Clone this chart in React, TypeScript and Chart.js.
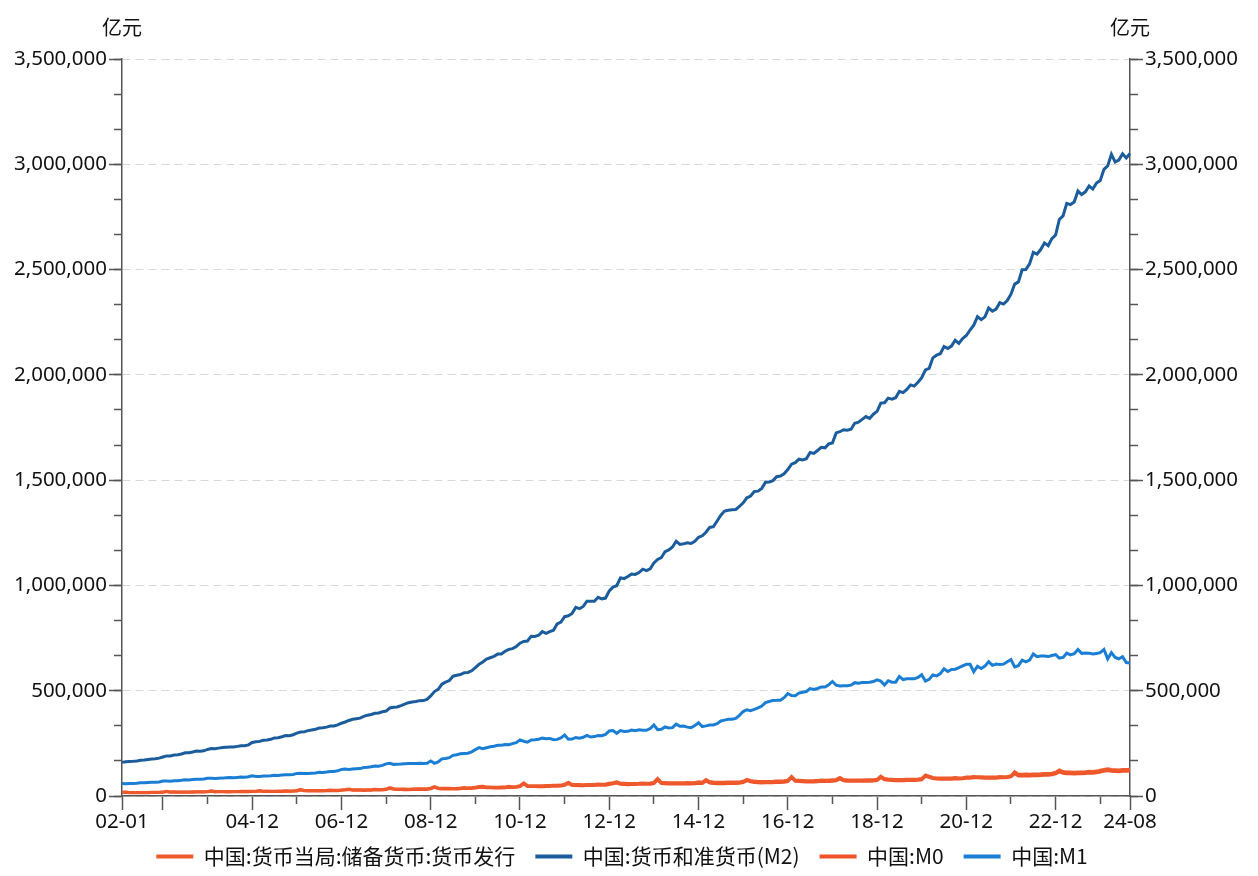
import React, { useEffect, useRef } from 'react';
import { Chart, registerables } from 'chart.js';

Chart.register(...registerables);

// Category labels: monthly, 2002-01 .. 2024-08
const labels: string[] = [];
for (let y = 2002; y <= 2024; y++) {
  for (let m = 1; m <= 12; m++) {
    if (y === 2024 && m > 8) break;
    labels.push(String(y % 100).padStart(2, '0') + '-' + String(m).padStart(2, '0'));
  }
}

const seriesNames = ['中国:货币当局:储备货币:货币发行', '中国:货币和准货币(M2)', '中国:M0', '中国:M1'];
const seriesColors = ['#ee5a2b', '#1b5c9c', '#f0532a', '#1a7ed4'];

// 亿元
const currencyIssue = [
  18300,19000,17200,16900,16600,16500,16700,17000,17600,17400,17500,18600,
  22900,19400,19600,19500,19300,19400,19200,19700,20500,20100,20400,21200,
  24500,21200,21400,21400,21200,21000,21300,21600,22600,22300,22300,23100,
  23000,26100,23100,23200,22900,22900,23200,23600,24700,24300,24500,25900,
  31200,26600,26300,26400,26000,25800,26300,26800,27900,27400,27600,29100,
  30500,33500,30000,29800,29400,29200,29600,30200,31700,30900,31100,32900,
  40200,34600,33400,33400,33000,32600,33300,33900,34700,34000,34300,37100,
  44800,38400,37000,36700,36300,36000,36500,37700,40100,38600,39000,41600,
  44800,46100,42900,42500,41900,41700,42200,43000,45700,44400,45000,48600,
  62800,49800,49200,49200,48500,48600,49400,50000,51500,50600,51800,55900,
  65600,54600,54600,54100,53700,54300,54500,55000,57400,55900,56600,60600,
  63600,67400,60800,60000,59200,59400,59800,60600,61900,60600,61500,64600,
  83500,65400,64300,63300,62800,63000,62400,63000,64200,63100,63600,67200,
  65700,78000,68400,66300,64900,65100,65200,66000,67000,66300,66500,69900,
  79500,74200,70700,69300,68300,69200,69300,69500,71500,70900,72000,74900,
  93500,75600,74800,74000,72700,73000,73100,73900,75900,74800,75400,77100,
  78900,87900,78000,76600,75700,75600,75800,76300,77300,76600,77300,79100,
  93900,82700,80500,79300,78300,78200,78600,79100,79700,79000,80300,82900,
  99500,93700,88500,86000,85000,85000,85000,85000,87900,85900,87100,89800,
  90200,92600,92000,91100,90000,89800,89800,90000,92400,91600,92900,96400,
  115000,103500,103100,103900,103500,104000,104500,105200,106700,106400,108500,112900,
  124100,116100,114100,114400,113200,113900,113900,114800,117800,116900,118300,122400,
  126500,129500,125600,124900,123600,126400,126000,126800,
];

const m2 = [
  159600,162400,164100,164900,166100,169600,170900,173300,176000,176800,179700,185000,
  190500,190100,194500,196100,199500,204900,205500,209000,213600,212900,214500,221200,
  225100,224800,227300,229900,231400,233100,232400,235700,238400,238400,243000,254100,
  257700,259400,264600,266000,269200,275800,276900,281300,287400,286700,291100,298800,
  303600,304500,310500,313700,316700,322800,324000,327000,331900,332700,337500,345600,
  351500,358700,364100,367300,369700,377800,383900,387200,393100,394200,399800,403400,
  417800,421000,423100,429300,436200,443100,446400,448800,452900,453100,458600,475200,
  496100,506700,530600,540500,548300,568900,573100,576700,585400,586600,594600,610200,
  625600,636100,649900,656600,663400,673900,674100,687500,696500,699800,710300,725800,
  733900,736100,758100,757400,763400,780800,772900,780900,787400,816800,825500,851600,
  855900,867200,895600,889600,900000,924900,925400,924900,943700,936400,940000,974100,
  992100,998600,1035900,1032600,1042200,1054400,1052200,1061300,1077400,1070200,1079300,1106500,
  1123500,1131700,1160700,1168800,1182300,1209600,1194900,1197500,1202100,1199200,1209900,1228400,
  1235500,1252400,1275300,1279300,1306000,1333400,1353200,1356900,1359800,1361000,1374900,1392300,
  1416300,1424600,1446200,1447700,1461000,1490500,1491600,1497800,1516400,1519500,1530400,1550100,
  1575900,1583000,1599600,1596300,1601400,1631300,1627000,1641000,1655600,1653400,1672000,1676800,
  1724200,1729900,1739500,1737400,1741800,1770200,1775600,1788700,1801700,1793000,1813100,1826700,
  1865900,1867400,1889400,1884700,1891500,1921400,1915800,1930900,1952300,1946600,1965000,1986500,
  2023100,2030800,2080900,2093500,2100200,2134900,2125500,2136800,2164100,2149700,2172000,2186800,
  2213000,2236000,2276200,2262100,2275500,2317800,2302200,2312300,2342800,2336000,2352600,2382900,
  2431000,2441500,2499300,2499700,2527000,2581500,2573600,2595100,2626600,2612900,2647100,2664300,
  2738100,2755200,2814600,2808500,2820500,2873000,2856600,2869200,2896700,2882300,2911200,2922700,
  2976200,2992500,3047900,3011400,3020300,3050200,3030300,3051500,
];

const m0 = [
  16900,17600,15900,15600,15300,15200,15400,15700,16300,16100,16200,17300,
  21200,17900,18100,18000,17800,17900,17700,18200,19000,18600,18900,19700,
  22600,19500,19700,19700,19500,19300,19600,19900,20900,20600,20600,21500,
  21100,24000,21200,21300,21000,21000,21300,21700,22800,22400,22600,24000,
  28700,24400,24100,24200,23800,23600,24100,24600,25700,25200,25400,27100,
  27900,30600,27400,27200,26800,26600,27000,27600,29100,28300,28500,30300,
  36700,31600,30400,30400,30000,29600,30300,30900,31700,31000,31300,34200,
  41100,35100,33700,33400,33000,32700,33200,34400,36800,35300,35700,38200,
  40800,42000,39100,38700,38100,37900,38400,39200,41900,40600,41200,44600,
  58000,45400,44800,44800,44100,44200,45000,45600,47100,46200,47400,50700,
  59800,49600,49600,49100,48700,49300,49500,50000,52400,50900,51600,54700,
  58100,61900,55500,54700,53900,54100,54500,55300,56600,55300,56200,58600,
  76500,59400,58300,57300,56800,57000,56400,57000,58200,57100,57600,60300,
  59000,71100,61900,59800,58400,58600,58700,59500,60500,59800,60000,63200,
  72800,67800,64300,62900,61900,62800,62900,63100,65100,64500,65600,68300,
  86600,69400,68600,67800,66500,66800,66900,67700,69700,68600,69200,70600,
  72300,81000,72000,70600,69700,69600,69800,70300,71300,70600,71300,73200,
  87500,77100,74900,73700,72700,72600,73000,73500,74100,73400,74700,77200,
  93300,88200,83000,80500,79500,79500,79500,79500,82400,80400,81600,84300,
  84000,86600,86500,85600,84500,84300,84300,84500,86900,86100,87400,90800,
  106200,95500,95100,95900,95500,96000,96500,97200,98700,98400,100500,104700,
  114600,107600,105600,105900,104700,105400,105400,106300,109300,108400,109800,113400,
  118000,121000,117000,116300,115000,117800,117400,118200,
];

const m1 = [
  58900,58400,59900,59300,60600,62800,62400,63900,65500,65100,66200,70900,
  70700,70000,72700,72800,74400,77000,76500,78000,79800,79200,80800,84100,
  84800,82800,84300,84900,86500,87900,86500,88400,90000,89200,91100,96000,
  92900,92800,94700,94600,95800,98600,97500,99400,100900,100500,102400,107300,
  107700,106400,106700,107800,109200,112300,111900,114000,116800,116800,119400,126000,
  128500,126400,127900,129500,130200,135000,136200,139000,142600,141500,145300,152600,
  154900,150200,150900,151700,153300,154800,153900,154600,155700,154200,155400,166200,
  155000,161600,176500,178200,182000,193100,195900,200400,201800,203000,209600,220000,
  229600,224300,229400,233900,236300,240600,240700,244300,243800,248800,253300,266600,
  260200,255300,266300,266800,269300,274700,271800,273400,267200,268900,276200,289800,
  270000,270600,277900,274800,278700,287500,280100,282200,286800,286300,292600,308700,
  311200,297900,310900,306300,307000,313500,310400,314100,312300,312000,320600,337300,
  314900,316600,327800,322800,324500,341500,331300,332000,327200,324000,334300,348100,
  330000,333100,337200,337300,343300,356100,360200,364400,364400,368800,382900,401000,
  409500,405500,411600,418400,427000,443600,448900,454100,454300,455100,466800,486600,
  477400,476100,488800,492700,496100,510200,505600,510600,517900,517900,528300,543800,
  526100,522200,523500,523500,526300,538300,535400,538700,538600,540200,543500,551700,
  545600,527200,547600,540600,540500,567700,553000,557100,557100,556600,563200,576000,
  545500,553900,575100,570200,581100,604300,591200,601300,602300,609200,617800,625600,
  625600,590000,616100,605400,616800,637500,620400,627000,624500,626100,637500,647400,
  613300,619100,645100,636800,645100,674400,661800,664600,664500,662100,667000,671700,
  655200,657900,678100,669800,675300,695600,677200,679600,678400,674000,677000,680400,
  695900,651000,680800,657800,651800,661400,634000,631800,
];

// Axis tick positions (category indices / values)
const xMajorTicks = [0, 11, 35, 59, 83, 107, 131, 155, 179, 203, 227, 251, 271];
const xMinorTicks = [23, 47, 71, 95, 119, 143, 167, 191, 215, 239, 263];
const yMax = 3500000;
const yMajorStep = 500000;
const yMinorTicks: number[] = [];
for (let k = 0; k <= 21; k++) yMinorTicks.push((k * yMajorStep) / 3);

const AXIS = '#555555';
const TEXT = '#111111';
const GRID = '#d8d8d8';
const tickFont = { family: '"Noto Sans", "Open Sans", sans-serif', size: 20.5 };
const cjkFont = { family: '"Noto Sans CJK SC", "Noto Sans", sans-serif', size: 21 };
const LEGEND_SHIFT_Y = 8;
const LEGEND_SHIFT_X = 7;

const unitPlugin = {
  id: 'unitLabels',
  afterDraw(chart: any) {
    const { ctx, chartArea } = chart;
    ctx.save();
    ctx.font = '20px "Noto Sans CJK SC", sans-serif';
    ctx.fillStyle = TEXT;
    ctx.textAlign = 'center';
    ctx.textBaseline = 'middle';
    ctx.fillText('亿元', chartArea.left, 27);
    ctx.fillText('亿元', chartArea.right, 27);
    ctx.restore();
  },
};

const legendShiftPlugin = {
  id: 'legendShift',
  afterLayout(chart: any) {
    const lg = chart.legend;
    if (lg) {
      lg.top -= LEGEND_SHIFT_Y;
      lg.bottom -= LEGEND_SHIFT_Y;
      lg.left -= LEGEND_SHIFT_X;
      lg.right -= LEGEND_SHIFT_X;
    }
  },
};

export default function App() {
  const ref = useRef<HTMLCanvasElement>(null);

  useEffect(() => {
    const canvas = ref.current;
    if (!canvas) return;
    const dataArrays = [currencyIssue, m2, m0, m1];
    const fmt = (v: any) => Number(v).toLocaleString('en-US');

    const majorY = (position: 'left' | 'right', width: number, drawArea: boolean) => ({
      type: 'linear',
      position,
      weight: 1,
      min: 0,
      max: yMax,
      ticks: { stepSize: yMajorStep, color: TEXT, font: tickFont, padding: 2, callback: fmt },
      grid: {
        drawOnChartArea: drawArea,
        color: GRID,
        lineWidth: 1,
        tickLength: 13,
        tickColor: AXIS,
        tickWidth: 1.5,
      },
      border: { display: true, color: AXIS, width: 1.5, dash: [8, 5] },
      afterFit: (s: any) => {
        s.width = width;
      },
    });
    const minorY = (position: 'left' | 'right') => ({
      type: 'linear',
      position,
      weight: 0,
      min: 0,
      max: yMax,
      ticks: { display: false },
      grid: { drawOnChartArea: false, tickLength: 8, tickColor: AXIS, tickWidth: 1.5 },
      border: { display: false },
      afterBuildTicks: (s: any) => {
        s.ticks = yMinorTicks.map((v) => ({ value: v }));
      },
      afterFit: (s: any) => {
        s.width = 0;
      },
    });

    const chart = new Chart(canvas, {
      type: 'line',
      data: {
        labels,
        datasets: seriesNames.map((name, i) => ({
          label: name,
          data: dataArrays[i],
          borderColor: seriesColors[i],
          backgroundColor: seriesColors[i],
          borderWidth: 3,
          pointRadius: 0,
          tension: 0,
          fill: false,
          xAxisID: 'x',
          yAxisID: 'y',
        })),
      },
      options: {
        responsive: false,
        animation: false,
        events: [],
        layout: { padding: { top: 59, left: 0, right: 0, bottom: 0 } },
        plugins: {
          tooltip: { enabled: false },
          legend: {
            position: 'bottom',
            align: 'center',
            maxHeight: 42,
            labels: {
              boxWidth: 37,
              boxHeight: 4,
              padding: 20,
              color: TEXT,
              font: cjkFont,
              generateLabels: (c: any) =>
                (Chart.defaults.plugins.legend.labels.generateLabels as any)(c).map((it: any) => ({
                  ...it,
                  lineWidth: 0,
                  fillStyle: it.strokeStyle,
                })),
            },
          },
        },
        scales: {
          x: {
            type: 'category',
            position: 'bottom',
            weight: 1,
            offset: false,
            grid: { drawOnChartArea: false, tickLength: 14, tickColor: AXIS, tickWidth: 1.5, offset: false },
            border: { display: true, color: AXIS, width: 1.5 },
            ticks: {
              autoSkip: false,
              maxRotation: 0,
              minRotation: 0,
              padding: 0,
              color: TEXT,
              font: tickFont,
              callback: (v: any) => (v === 11 ? '' : labels[v]),
            },
            afterBuildTicks: (s: any) => {
              s.ticks = xMajorTicks.map((v) => ({ value: v }));
            },
            afterFit: (s: any) => {
              s.height = 38;
            },
          },
          xMinor: {
            type: 'category',
            position: 'bottom',
            weight: 0,
            offset: false,
            grid: { drawOnChartArea: false, tickLength: 8, tickColor: AXIS, tickWidth: 1.5, offset: false },
            border: { display: false },
            ticks: { display: false, autoSkip: false },
            afterBuildTicks: (s: any) => {
              s.ticks = xMinorTicks.map((v) => ({ value: v }));
            },
            afterFit: (s: any) => {
              s.height = 0;
            },
          },
          y: majorY('left', 122, true),
          yMinor: minorY('left'),
          y2: majorY('right', 128, false),
          y2Minor: minorY('right'),
        } as any,
      },
      plugins: [unitPlugin, legendShiftPlugin],
    } as any);

    return () => chart.destroy();
  }, []);

  return (
    <div style={{ position: 'absolute', left: 0, top: 0, width: 1258, height: 876, background: '#ffffff' }}>
      <canvas ref={ref} width={1258} height={876} style={{ display: 'block' }} />
    </div>
  );
}
